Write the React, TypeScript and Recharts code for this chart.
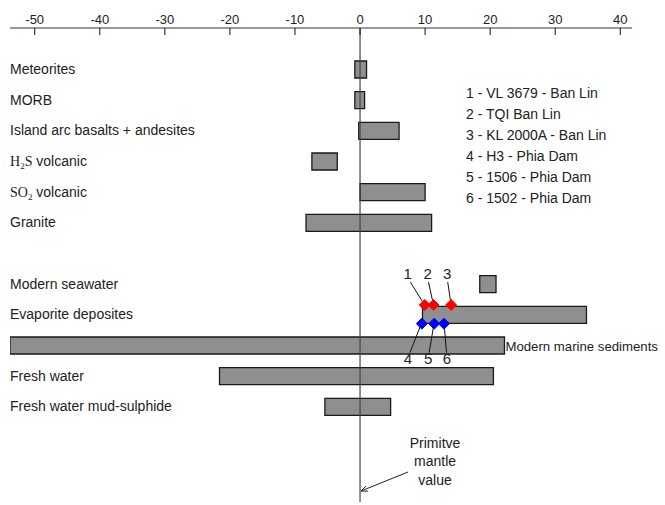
import React from "react";
import { ComposedChart, Bar, XAxis, YAxis, ReferenceLine, ReferenceDot, LabelList } from "recharts";

// sulphur isotope ranges (d34S, permil)
const categories = [
  "Meteorites",
  "MORB",
  "Island arc basalts + andesites",
  "H2S volcanic",
  "SO2 volcanic",
  "Granite",
  "",
  "Modern seawater",
  "Evaporite deposites",
  "Modern marine sediments",
  "Fresh water",
  "Fresh water mud-sulphide",
];
const lowValues = [-0.8, -0.8, -0.2, -7.4, 0, -8.3, null, 18.4, 9.6, -53.8, -21.6, -5.4];
const highValues = [1.0, 0.7, 6.0, -3.5, 10, 11.0, null, 20.9, 34.8, 22.2, 20.5, 4.7];

const xTicks = [-50, -40, -30, -20, -10, 0, 10, 20, 30, 40];

const sampleRow = "Evaporite deposites";
const redSamples = [9.95, 11.3, 14.0];
const redIds = ["1", "2", "3"];
const blueSamples = [9.5, 11.4, 12.9];
const blueIds = ["4", "5", "6"];

const legendLines = [
  "1 - VL 3679 - Ban Lin",
  "2 - TQI Ban Lin",
  "3 - KL 2000A - Ban Lin",
  "4 - H3 - Phia Dam",
  "5 - 1506 - Phia Dam",
  "6 - 1502 - Phia Dam",
];

const sideLabelled = "Modern marine sediments";

// label nudges for the numbered diamonds (style only)
const redLabelDx = [-17, -6, -4];
const blueLabelDx = [-14, -6, 3];

const data = categories.map((name, i) => ({
  name,
  range: lowValues[i] == null ? null : [lowValues[i], highValues[i]],
}));

const sans = "'Liberation Sans', Arial, sans-serif";
const serif = "'Liberation Serif', 'Times New Roman', serif";
const textColor = "#222";

const TICK_GAP = 4;

function TopTick(props: any) {
  const { x, y, payload } = props;
  return (
    <g>
      <text x={x} y={y} textAnchor="middle" fontSize={13} fontFamily={sans} fill={textColor}>
        {payload.value}
      </text>
      <line x1={x} x2={x} y1={y + TICK_GAP} y2={y + TICK_GAP + 7} stroke="#111" strokeWidth={1} />
    </g>
  );
}

function CategoryTick(props: any) {
  const { x, y, payload } = props;
  const v = payload.value;
  if (!v || v === sideLabelled) return null;
  if (v === "H2S volcanic") {
    return (
      <text x={x} y={y + 4.5} fontSize={14} fill={textColor} fontFamily={sans}>
        <tspan fontFamily={serif} fontSize={14}>H</tspan>
        <tspan fontFamily={serif} fontSize={9} dy={3}>2</tspan>
        <tspan fontFamily={serif} fontSize={14} dy={-3}>S</tspan>
        <tspan> volcanic</tspan>
      </text>
    );
  }
  if (v === "SO2 volcanic") {
    return (
      <text x={x} y={y + 4.5} fontSize={14} fill={textColor} fontFamily={sans}>
        <tspan fontFamily={serif} fontSize={14}>SO</tspan>
        <tspan fontFamily={serif} fontSize={9} dy={3}>2</tspan>
        <tspan dy={-3}> volcanic</tspan>
      </text>
    );
  }
  return (
    <text x={x} y={y + 4.5} fontSize={14} fill={textColor} fontFamily={sans}>
      {v}
    </text>
  );
}

function SideLabel(props: any) {
  const { x, y, width, height, value } = props;
  if (value !== sideLabelled) return null;
  const right = Math.max(x, x + width);
  return (
    <text x={right + 1} y={y + height / 2 + 5} fontSize={13.2} fontFamily={sans} fill={textColor}>
      {sideLabelled}
    </text>
  );
}

function Diamond(props: any) {
  const { cx, cy, color, up, id, dx } = props;
  const half = 5.5;
  const dy = up ? -9.7 : 9;
  const px = cx;
  const py = cy + dy;
  const baseline = up ? py - 26 : py + 40;
  const lineStartY = up ? py - 3 : py + 3;
  const lineEndY = up ? baseline + 3 : baseline - 11;
  return (
    <g>
      <line x1={px + dx * 0.12} y1={lineStartY} x2={px + dx * 0.85} y2={lineEndY} stroke="#111" strokeWidth={1} />
      <polygon
        points={`${px},${py - half} ${px + half},${py} ${px},${py + half} ${px - half},${py}`}
        fill={color}
        stroke={color}
      />
      <text x={px + dx} y={baseline} textAnchor="middle" fontSize={15} fontFamily={sans} fill={textColor}>
        {id}
      </text>
    </g>
  );
}

function MantleNote(props: any) {
  const vb = props.viewBox || {};
  const x = vb.x;
  const bottom = vb.y + vb.height;
  const hx = x + 1;
  const hy = bottom - 11;
  const tx = x + 48;
  const ty = bottom - 30;
  const ang = Math.atan2(hy - ty, hx - tx);
  const len = 7;
  const a1 = ang + Math.PI - 0.4;
  const a2 = ang + Math.PI + 0.4;
  const cxText = x + 75;
  return (
    <g>
      <line x1={tx} y1={ty} x2={hx} y2={hy} stroke="#222" strokeWidth={1} />
      <polyline
        points={`${hx + len * Math.cos(a1)},${hy + len * Math.sin(a1)} ${hx},${hy} ${hx + len * Math.cos(a2)},${hy + len * Math.sin(a2)}`}
        fill="none"
        stroke="#222"
        strokeWidth={1}
      />
      <text textAnchor="middle" fontSize={14} fontFamily={sans} fill={textColor}>
        <tspan x={cxText} y={bottom - 54}>Primitve</tspan>
        <tspan x={cxText} y={bottom - 36}>mantle</tspan>
        <tspan x={cxText} y={bottom - 17}>value</tspan>
      </text>
    </g>
  );
}

export default function App() {
  return (
    <div style={{ position: "absolute", left: 0, top: 0, width: 665, height: 505, background: "#fff" }}>
      <ComposedChart
        width={665}
        height={505}
        data={data}
        layout="vertical"
        margin={{ top: 0, right: 33, left: 9, bottom: 3 }}
      >
        <XAxis
          type="number"
          orientation="top"
          domain={[-53.8, 41.8]}
          ticks={xTicks}
          height={28}
          tickSize={0}
          tickMargin={TICK_GAP}
          tick={<TopTick />}
          axisLine={{ stroke: "#777", strokeWidth: 1.5 }}
          allowDataOverflow
        />
        <YAxis
          type="category"
          dataKey="name"
          width={1}
          tickSize={0}
          tickMargin={0}
          tickLine={false}
          axisLine={false}
          tick={<CategoryTick />}
          padding={{ top: 26, bottom: 80 }}
          interval={0}
        />
        <ReferenceLine x={0} stroke="#444" strokeWidth={1.2} label={<MantleNote />} />
        <Bar
          dataKey="range"
          fill="#8f8f8f"
          stroke="#1a1a1a"
          strokeWidth={1.3}
          barSize={17}
          isAnimationActive={false}
        >
          <LabelList dataKey="name" content={<SideLabel />} />
        </Bar>
        {redSamples.map((v, i) => (
          <ReferenceDot
            key={"r" + i}
            x={v}
            y={sampleRow}
            r={5}
            shape={(p: any) => <Diamond {...p} color="#ff0000" up id={redIds[i]} dx={redLabelDx[i]} />}
          />
        ))}
        {blueSamples.map((v, i) => (
          <ReferenceDot
            key={"b" + i}
            x={v}
            y={sampleRow}
            r={5}
            shape={(p: any) => <Diamond {...p} color="#0000ff" up={false} id={blueIds[i]} dx={blueLabelDx[i]} />}
          />
        ))}
      </ComposedChart>
      <div
        style={{
          position: "absolute",
          left: 466,
          top: 83,
          fontFamily: sans,
          fontSize: 14,
          lineHeight: "21px",
          color: textColor,
          whiteSpace: "nowrap",
        }}
      >
        {legendLines.map((t) => (
          <div key={t}>{t}</div>
        ))}
      </div>
    </div>
  );
}
